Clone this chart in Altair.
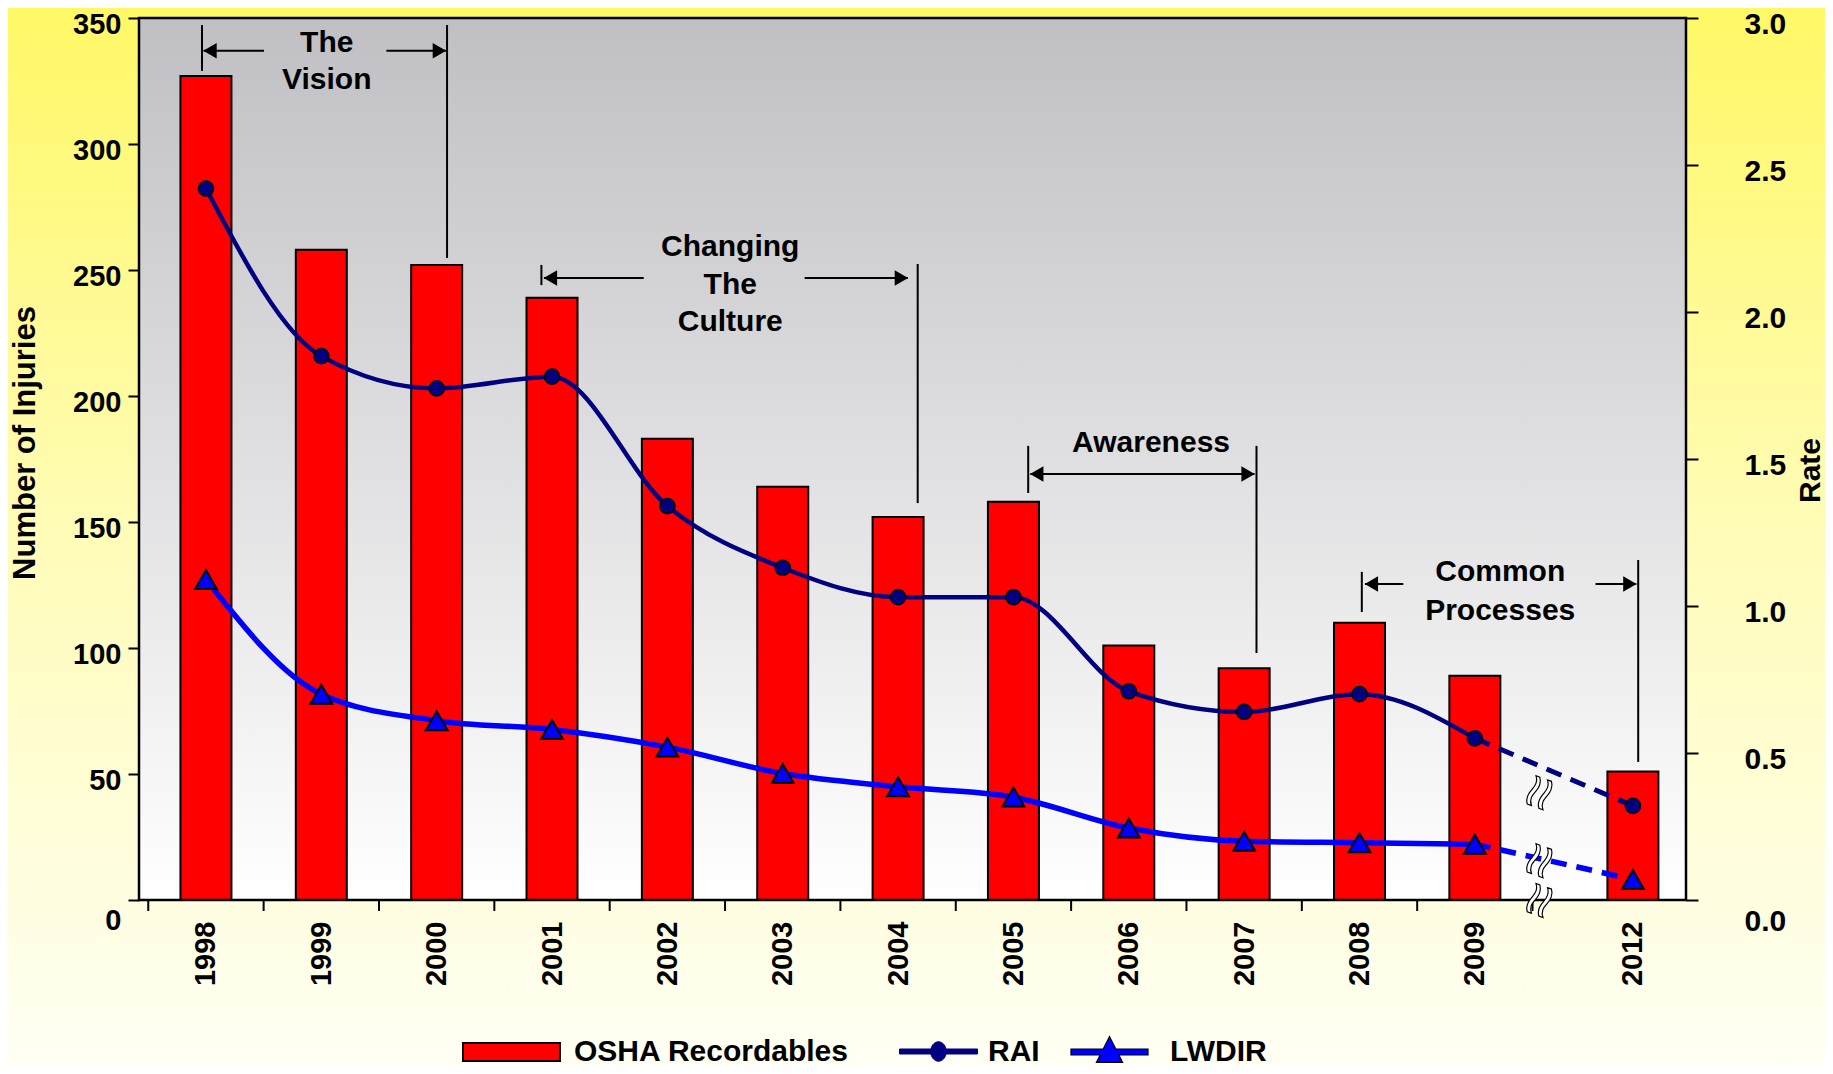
import altair as alt
import pandas as pd

# ---------------- data ----------------
years = ["1998", "1999", "2000", "2001", "2002", "2003", "2004",
         "2005", "2006", "2007", "2008", "2009", "2012"]
osha_recordables = [327, 258, 252, 239, 183, 164, 152, 158, 101, 92, 110, 89, 51]
rai = [2.42, 1.85, 1.74, 1.78, 1.34, 1.13, 1.03, 1.03, 0.71, 0.64, 0.70, 0.55, 0.32]
lwdir = [1.09, 0.70, 0.61, 0.58, 0.52, 0.43, 0.385, 0.35, 0.245, 0.20, 0.195, 0.19, 0.07]
injury_ticks = [0, 50, 100, 150, 200, 250, 300, 350]
rate_ticks = [0.0, 0.5, 1.0, 1.5, 2.0, 2.5, 3.0]

# phase annotations: x in category slots, y in number of injuries
phase_text_x = [1.047, 1.047, 4.545, 4.545, 4.545, 8.193, 11.22, 11.22]
phase_text_y = [340, 325.4, 259.1, 244, 229.4, 181.3, 130.2, 114.7]
phase_text = ["The", "Vision", "Changing", "The", "Culture", "Awareness", "Common", "Processes"]

vline_x = [-0.034, 2.09, 2.908, 6.17, 7.128, 9.107, 10.02, 12.416]
vline_top = [347.2, 347.2, 252, 252.4, 180.2, 180.2, 130.2, 134.9]
vline_bottom = [329, 254.8, 244, 157.5, 161.5, 98, 114.3, 54.8]

arrow_from = [-0.021, 1.564, 2.93, 5.19, 7.146, 10.047, 12.046]
arrow_to = [0.503, 2.08, 3.795, 6.085, 9.09, 10.38, 12.40]
arrow_y = [337, 337, 246.8, 246.8, 169, 125.4, 125.4]
arrow_head = ["left", "right", "left", "right", "both", "left", "right"]

# axis-break marks: x in slots, y in rate units
break_x = [11.546, 11.546, 11.546]
break_y = [0.367, 0.136, 0.0]

# ---------------- layout ----------------
W, H = 1547, 882
PAD = {"left": 131, "top": 10, "right": 139, "bottom": 166}
BREAK_GAP = 0.37          # extra space left for the axis break before 2012
X_DOMAIN = [-0.537, 12.787]
HEAD_HALF = 0.056         # half arrow-head length in slot units
FONT = "Liberation Sans"

slots = [round(i + (BREAK_GAP if y == "2012" else 0), 3) for i, y in enumerate(years)]
boundaries = [i - 0.5 for i in range(13)]

df = pd.DataFrame({"year": years, "slot": slots, "osha": osha_recordables,
                   "rai": rai, "lwdir": lwdir})
solid = df.iloc[:12]
dashed = df.iloc[11:]

text_df = pd.DataFrame({"x": phase_text_x, "y": phase_text_y, "text": phase_text})
vline_df = pd.DataFrame({"x": vline_x, "y1": vline_top, "y2": vline_bottom})
arrow_df = pd.DataFrame({"x1": arrow_from, "x2": arrow_to, "y": arrow_y})
heads = []
for a, b, yv, h in zip(arrow_from, arrow_to, arrow_y, arrow_head):
    if h in ("left", "both"):
        heads.append({"x": a + HEAD_HALF, "y": yv, "shape": "triangle-left"})
    if h in ("right", "both"):
        heads.append({"x": b - HEAD_HALF, "y": yv, "shape": "triangle-right"})
head_df = pd.DataFrame(heads)
break_df = pd.DataFrame({"x": break_x, "v": break_y})
tick_df = pd.DataFrame({"b": boundaries})

# ---------------- scales & axes ----------------
label_expr = ("[" + ",".join("'%s'" % y for y in years) + "][indexof(["
              + ",".join(str(s) for s in slots) + "], datum.value)]")
xscale = alt.Scale(domain=X_DOMAIN, nice=False, zero=False)
xaxis = alt.Axis(values=slots, labelExpr=label_expr, labelAngle=270,
                 labelAlign="right", labelBaseline="middle", labelFont=FONT,
                 labelFontSize=29, labelFontWeight="bold", labelColor="black",
                 labelPadding=21, ticks=False, domain=False, grid=False,
                 title=None, labelOverlap=False, labelFlush=False, zindex=2)


def X(field):
    return alt.X(field, type="quantitative", scale=xscale, axis=xaxis)


zero_low = {"condition": {"test": "datum.value === 0", "value": "top"}, "value": "middle"}

yl_scale = alt.Scale(domain=[0, 350], nice=False)
yl_axis = alt.Axis(values=injury_ticks, title="Number of Injuries", titleX=-113.5,
                   titleY=424.5, titleAngle=270, titleAlign="center",
                   titleBaseline="middle", titleFont=FONT, titleFontSize=31,
                   titleFontWeight="bold", titleColor="black", labelFont=FONT,
                   labelFontSize=29, labelFontWeight="bold", labelColor="black",
                   labelPadding=7, labelOffset=6, labelBaseline=zero_low,
                   tickSize=11, tickWidth=2, tickColor="black", domain=False,
                   grid=False, zindex=2)


def YL(field):
    return alt.Y(field, type="quantitative", scale=yl_scale, axis=yl_axis)


yr_scale = alt.Scale(domain=[0, 3], nice=False)
yr_axis = alt.Axis(orient="right", values=rate_ticks, format=".1f", title="Rate",
                   titleX=124, titleY=452, titleAngle=270, titleAlign="center",
                   titleBaseline="middle", titleFont=FONT, titleFontSize=30,
                   titleFontWeight="bold", titleColor="black", labelFont=FONT,
                   labelFontSize=30, labelFontWeight="bold", labelColor="black",
                   labelPadding=46, labelOffset=6, labelBaseline=zero_low,
                   tickSize=12, tickWidth=2, tickColor="black", domain=False,
                   grid=False, zindex=2)


def YR(field):
    return alt.Y(field, type="quantitative", scale=yr_scale, axis=yr_axis)


def legend(x, y, path, size, offset, stroke, stroke_w):
    return alt.Legend(title=None, orient="none", legendX=x, legendY=y,
                      symbolType=path, symbolSize=size, symbolStrokeColor=stroke,
                      symbolStrokeWidth=stroke_w, symbolOpacity=1,
                      labelFont=FONT, labelFontSize=30, labelFontWeight="bold",
                      labelColor="black", labelOffset=offset, labelLimit=600,
                      padding=0, zindex=2)


yellow = alt.LinearGradient(gradient="linear", x1=0, y1=0, x2=0, y2=1, stops=[
    alt.GradientStop(color="#fff866", offset=0),
    alt.GradientStop(color="#fffcb8", offset=0.5),
    alt.GradientStop(color="#fffff4", offset=1)])
grey = alt.LinearGradient(gradient="linear", x1=0, y1=0, x2=0, y2=1, stops=[
    alt.GradientStop(color="#c0bfc3", offset=0),
    alt.GradientStop(color="#ffffff", offset=1)])

one = alt.Data(values=[{}])

page_bg = alt.Chart(one).mark_rect(color=yellow).encode(
    x=alt.value(-PAD["left"]), x2=alt.value(W + PAD["right"]),
    y=alt.value(-PAD["top"]), y2=alt.value(H + PAD["bottom"]))
plot_bg = alt.Chart(one).mark_rect(color=grey).encode(
    x=alt.value(0), x2=alt.value(W), y=alt.value(0), y2=alt.value(H))
frame = alt.Chart(one).mark_rect(fillOpacity=0, stroke="black", strokeWidth=2.5).encode(
    x=alt.value(0), x2=alt.value(W), y=alt.value(0), y2=alt.value(H))
xticks = alt.Chart(tick_df).mark_rule(color="black", strokeWidth=2).encode(
    x=X("b"), y=alt.value(H), y2=alt.value(H + 11))

bars = alt.Chart(df).transform_calculate(series="'OSHA Recordables'").mark_bar(
    width=51, stroke="black", strokeWidth=2).encode(
    x=X("slot"), y=YL("osha"),
    color=alt.Color("series:N", scale=alt.Scale(domain=["OSHA Recordables"], range=["#ff0000"]),
                    legend=legend(323, 984.5, "M-1,-0.186H1V0.186H-1Z", 9409, 13, "black", 2)))

vlines = alt.Chart(vline_df).mark_rule(color="black", strokeWidth=2).encode(
    x=X("x"), y=YL("y1"), y2="y2")
arrows = alt.Chart(arrow_df).mark_rule(color="black", strokeWidth=2).encode(
    x=X("x1"), x2="x2", y=YL("y"))
arrow_heads = alt.Chart(head_df).mark_point(filled=True, color="black", size=240, opacity=1).encode(
    x=X("x"), y=YL("y"), shape=alt.Shape("shape:N", scale=None))
labels = alt.Chart(text_df).mark_text(font=FONT, fontSize=30, fontWeight="bold", color="black",
                                      align="center", baseline="middle").encode(
    x=X("x"), y=YL("y"), text="text:N")

left_group = alt.layer(page_bg, plot_bg, bars, vlines, arrows, arrow_heads, labels, frame, xticks)

NAVY, BLUE = "#000080", "#0000ff"
rai_line = alt.Chart(solid).mark_line(color=NAVY, strokeWidth=4.5, interpolate="monotone").encode(
    x=X("slot"), y=YR("rai"))
lw_line = alt.Chart(solid).mark_line(color=BLUE, strokeWidth=5.5, interpolate="monotone").encode(
    x=X("slot"), y=YR("lwdir"))
rai_dash = alt.Chart(dashed).mark_line(color=NAVY, strokeWidth=5, strokeDash=[16, 10]).encode(
    x=X("slot"), y=YR("rai"))
lw_dash = alt.Chart(dashed).mark_line(color=BLUE, strokeWidth=5.5, strokeDash=[16, 10]).encode(
    x=X("slot"), y=YR("lwdir"))

rai_path = ("M-1,-0.064H1V0.064H-1Z "
            "M-0.2,0A0.2,0.25 0 1,1 0.2,0A0.2,0.25 0 1,1 -0.2,0Z")
lw_path = ("M-1,-0.078L-0.163,-0.078L0,-0.4L0.163,-0.078L1,-0.078L1,0.078L0.243,0.078"
           "L0.34,0.27L-0.34,0.27L-0.243,0.078L-1,0.078Z")

rai_pts = alt.Chart(df).transform_calculate(series="'RAI'").mark_point(
    filled=True, shape="circle", size=230, stroke="black", strokeWidth=1.5, opacity=1).encode(
    x=X("slot"), y=YR("rai"),
    color=alt.Color("series:N", scale=alt.Scale(domain=["RAI"], range=[NAVY]),
                    legend=legend(760, 994, rai_path, 6084, 10, NAVY, 1)))
lw_pts = alt.Chart(df).transform_calculate(series="'LWDIR'").mark_point(
    filled=True, shape="triangle-up", size=480, stroke="black", strokeWidth=2, opacity=1).encode(
    x=X("slot"), y=YR("lwdir"),
    color=alt.Color("series:N", scale=alt.Scale(domain=["LWDIR"], range=[BLUE]),
                    legend=legend(931, 994.5, lw_path, 5929, 21, "black", 1.2)))

breaks = alt.Chart(break_df).mark_text(text="\u2248", font=FONT, fontSize=60, angle=110,
                                       fill="white", stroke="black", strokeWidth=1.2,
                                       align="center", baseline="middle").encode(
    x=X("x"), y=YR("v"))

right_group = alt.layer(rai_line, lw_line, rai_dash, lw_dash, rai_pts, lw_pts, breaks
                        ).resolve_scale(color="independent")

chart = alt.layer(left_group, right_group).resolve_scale(
    y="independent", color="independent").properties(
    width=W, height=H, padding=PAD, autosize=alt.AutoSizeParams(type="none"),
    background="#fffde0").configure_view(stroke=None)

chart.save("out.html", embed_options={"renderer": "svg", "actions": False})
